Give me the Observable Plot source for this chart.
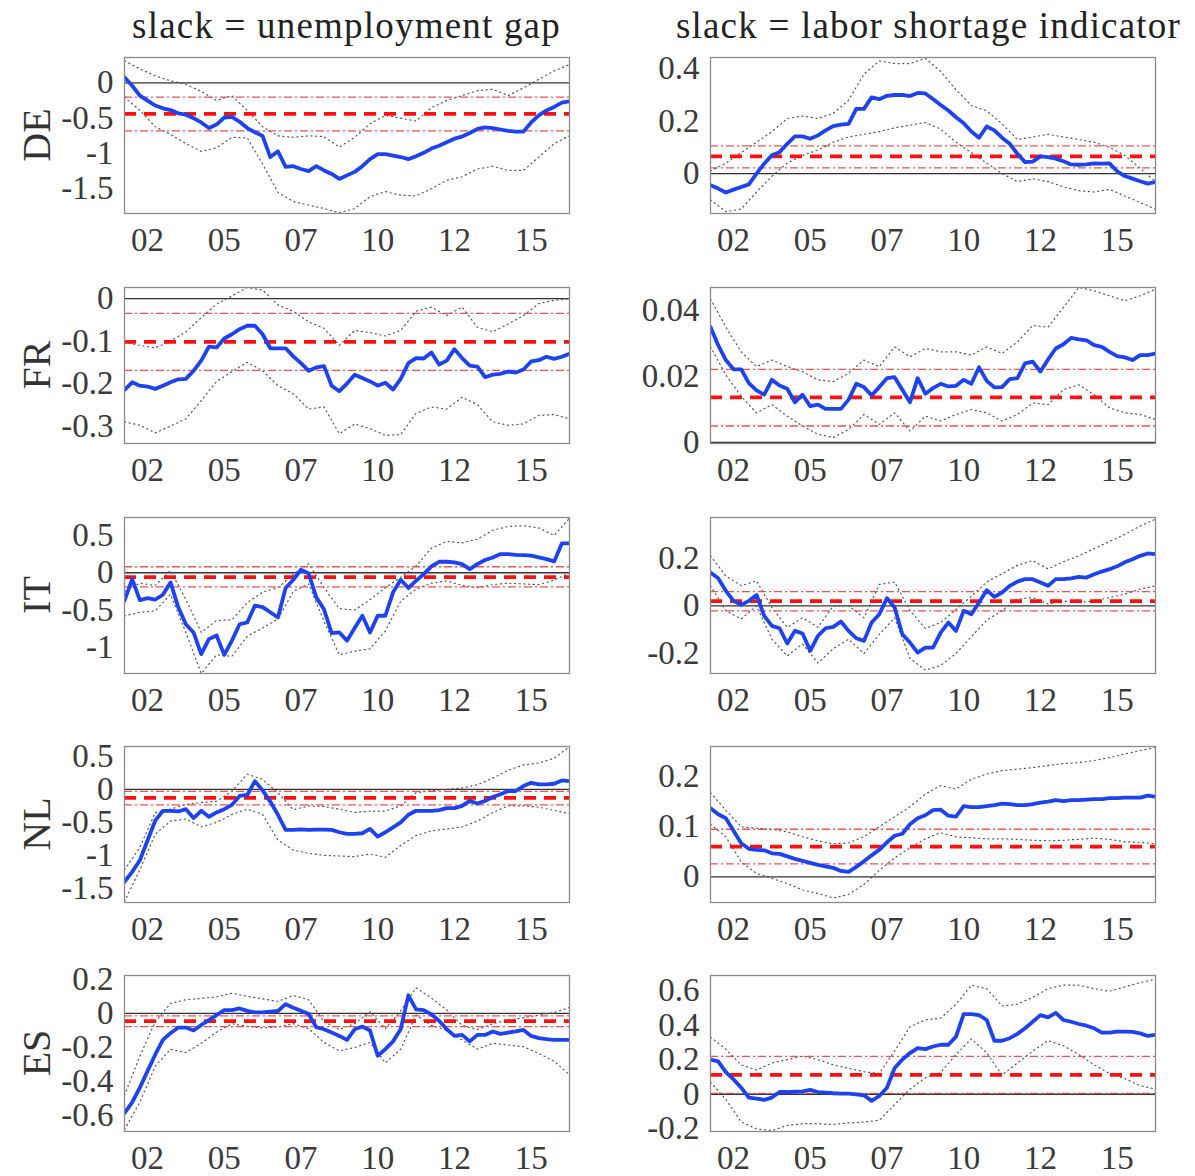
<!DOCTYPE html>
<html><head><meta charset="utf-8">
<script src="https://cdn.jsdelivr.net/npm/d3@7"></script>
<script src="https://cdn.jsdelivr.net/npm/@observablehq/plot@0.6"></script>
<style>
body{margin:0;background:#fff;}
#chart{position:relative;width:1195px;height:1176px;font-family:"Liberation Serif",serif;overflow:hidden;}
#chart svg{position:absolute;}
</style></head><body><div id="chart"></div>
<script>
// ---------- shared axis data ----------
const xStart = 2001.5, xEnd = 2016.0;              // 2001Q3 .. 2016Q1, quarterly
const xTickValues = [2002.25, 2004.75, 2007.25, 2009.75, 2012.25, 2014.75];
const xTickLabels = ["02", "05", "07", "10", "12", "15"];
const countries = ["DE", "FR", "IT", "NL", "ES"];
const columnTitles = ["slack = unemployment gap", "slack = labor shortage indicator"];

// ---------- DE ----------
const deGapEst = [0.08,-0.04,-0.18,-0.25,-0.32,-0.36,-0.385,-0.43,-0.45,-0.50,-0.56,-0.64,-0.59,-0.49,-0.48,-0.55,-0.64,-0.70,-0.75,-1.05,-0.97,-1.19,-1.18,-1.22,-1.25,-1.18,-1.24,-1.29,-1.36,-1.31,-1.26,-1.18,-1.08,-1.01,-1.01,-1.03,-1.05,-1.08,-1.04,-0.99,-0.93,-0.89,-0.84,-0.79,-0.76,-0.71,-0.65,-0.63,-0.64,-0.66,-0.68,-0.69,-0.69,-0.56,-0.46,-0.39,-0.34,-0.28,-0.26];
const deGapUp = [0.31,0.20,0.10,0.03,-0.02,-0.12,-0.25,-0.18,-0.39,-0.62,-0.75,-0.77,-0.75,-0.76,-0.91,-0.77,-0.58,-0.46,-0.50,-0.54,-0.35,-0.25,-0.18,-0.11,-0.09,-0.18,-0.07,0.05,0.17,0.26];
const deGapLo = [-0.2,-0.39,-0.62,-0.73,-0.86,-0.97,-0.92,-0.77,-0.78,-1.15,-1.55,-1.68,-1.73,-1.78,-1.84,-1.78,-1.61,-1.54,-1.59,-1.60,-1.50,-1.38,-1.33,-1.22,-1.18,-1.24,-1.24,-1.05,-0.86,-0.75];
const deGapMean = -0.44, deGapBand = [-0.20, -0.68];
const deGapTicks = [0, -0.5, -1, -1.5], deGapTickLabels = ["0", "-0.5", "-1", "-1.5"];

const deShortEst = [-0.044,-0.057,-0.072,-0.061,-0.051,-0.041,0.0,0.038,0.070,0.082,0.114,0.142,0.142,0.133,0.146,0.165,0.181,0.187,0.190,0.247,0.247,0.291,0.284,0.297,0.300,0.300,0.296,0.308,0.306,0.285,0.262,0.241,0.215,0.192,0.161,0.137,0.180,0.165,0.137,0.114,0.076,0.044,0.046,0.066,0.063,0.057,0.047,0.035,0.034,0.035,0.039,0.038,0.039,0.009,-0.009,-0.019,-0.029,-0.038,-0.032];
const deShortUp = [0.01,0.04,0.08,0.12,0.16,0.21,0.22,0.21,0.23,0.28,0.38,0.43,0.42,0.42,0.44,0.39,0.32,0.26,0.24,0.19,0.13,0.14,0.15,0.14,0.13,0.12,0.10,0.07,0.02,-0.03];
const deShortLo = [-0.10,-0.145,-0.135,-0.07,-0.01,0.04,0.07,0.09,0.12,0.14,0.15,0.16,0.175,0.185,0.195,0.17,0.12,0.08,0.04,0.0,-0.03,-0.02,-0.03,-0.05,-0.065,-0.07,-0.06,-0.085,-0.11,-0.135];
const deShortMean = 0.066, deShortBand = [0.106, 0.022];
const deShortTicks = [0, 0.2, 0.4], deShortTickLabels = ["0", "0.2", "0.4"];

// ---------- FR ----------
const frGapEst = [-0.215,-0.197,-0.205,-0.207,-0.2125,-0.205,-0.197,-0.19,-0.189,-0.17,-0.146,-0.113,-0.115,-0.094,-0.084,-0.072,-0.064,-0.064,-0.084,-0.117,-0.117,-0.117,-0.136,-0.152,-0.17,-0.162,-0.159,-0.205,-0.218,-0.20,-0.179,-0.187,-0.195,-0.205,-0.198,-0.214,-0.189,-0.152,-0.14,-0.141,-0.127,-0.155,-0.146,-0.119,-0.14,-0.158,-0.16,-0.185,-0.179,-0.177,-0.172,-0.174,-0.167,-0.148,-0.145,-0.137,-0.142,-0.137,-0.13];
const frGapUp = [-0.103,-0.11,-0.116,-0.10,-0.078,-0.045,-0.013,0.006,0.026,0.02,-0.015,-0.03,-0.055,-0.07,-0.11,-0.075,-0.08,-0.088,-0.075,-0.03,-0.02,-0.04,-0.02,-0.068,-0.078,-0.06,-0.04,-0.012,-0.004,0.0];
const frGapLo = [-0.29,-0.298,-0.316,-0.30,-0.283,-0.24,-0.195,-0.172,-0.15,-0.17,-0.205,-0.224,-0.26,-0.255,-0.318,-0.295,-0.306,-0.322,-0.32,-0.27,-0.255,-0.26,-0.232,-0.25,-0.29,-0.298,-0.295,-0.275,-0.273,-0.283];
const frGapMean = -0.102, frGapBand = [-0.035, -0.169];
const frGapTicks = [0, -0.1, -0.2, -0.3], frGapTickLabels = ["0", "-0.1", "-0.2", "-0.3"];

const frShortEst = [0.035,0.0295,0.025,0.0222,0.0222,0.018,0.0158,0.0145,0.019,0.0173,0.0163,0.0122,0.0145,0.011,0.0115,0.0102,0.0102,0.0102,0.013,0.0178,0.0168,0.0143,0.0168,0.0195,0.0198,0.016,0.0122,0.0195,0.0148,0.0165,0.0178,0.017,0.0172,0.019,0.0178,0.0228,0.0187,0.0167,0.0168,0.0192,0.0195,0.024,0.0245,0.0215,0.0252,0.0285,0.0298,0.0317,0.0313,0.031,0.0295,0.029,0.0275,0.0262,0.0258,0.025,0.0265,0.0265,0.027];
const frShortUp = [0.0435,0.035,0.0275,0.023,0.025,0.023,0.0215,0.019,0.0185,0.021,0.025,0.023,0.029,0.026,0.0285,0.0275,0.0275,0.0265,0.029,0.027,0.0305,0.0355,0.035,0.041,0.047,0.046,0.0445,0.043,0.0445,0.0465];
const frShortLo = [0.029,0.0205,0.014,0.009,0.0115,0.008,0.005,0.0025,0.0015,0.004,0.0085,0.0055,0.009,0.0035,0.008,0.0065,0.0085,0.010,0.009,0.0065,0.0085,0.012,0.0115,0.016,0.0175,0.0145,0.0105,0.009,0.0085,0.007];
const frShortMean = 0.0137, frShortBand = [0.0222, 0.005];
const frShortTicks = [0, 0.02, 0.04], frShortTickLabels = ["0", "0.02", "0.04"];

// ---------- IT ----------
const itGapEst = [-0.375,-0.085,-0.366,-0.34,-0.36,-0.295,-0.13,-0.46,-0.69,-0.80,-1.09,-0.89,-0.84,-1.10,-0.91,-0.69,-0.665,-0.44,-0.46,-0.53,-0.60,-0.205,-0.094,0.04,-0.01,-0.33,-0.49,-0.81,-0.80,-0.91,-0.74,-0.576,-0.80,-0.576,-0.576,-0.263,-0.094,-0.205,-0.107,-0.018,0.085,0.147,0.147,0.138,0.116,0.049,0.116,0.17,0.205,0.25,0.25,0.24,0.237,0.228,0.205,0.183,0.152,0.393,0.393];
const itGapUp = [-0.25,-0.14,-0.17,0.03,-0.36,-0.80,-0.64,-0.63,-0.40,-0.26,-0.20,-0.02,0.12,-0.20,-0.48,-0.50,-0.36,-0.20,-0.06,0.09,0.33,0.42,0.40,0.45,0.57,0.62,0.63,0.60,0.50,0.73];
const itGapLo = [-0.58,-0.53,-0.51,-0.29,-0.80,-1.35,-1.10,-1.12,-0.85,-0.74,-0.62,-0.25,-0.15,-0.65,-1.10,-1.05,-1.02,-0.78,-0.38,-0.22,-0.14,-0.11,-0.17,-0.20,-0.16,-0.14,-0.15,-0.16,-0.10,0.0];
const itGapMean = -0.06, itGapBand = [0.08, -0.19];
const itGapTicks = [0.5, 0, -0.5, -1], itGapTickLabels = ["0.5", "0", "-0.5", "-1"];

const itShortEst = [0.14,0.116,0.063,0.021,0.004,0.021,0.046,-0.042,-0.084,-0.094,-0.158,-0.105,-0.116,-0.189,-0.126,-0.094,-0.088,-0.066,-0.105,-0.136,-0.147,-0.07,-0.035,0.032,-0.007,-0.119,-0.154,-0.196,-0.175,-0.175,-0.112,-0.07,-0.105,-0.021,-0.035,0.014,0.066,0.038,0.056,0.084,0.102,0.112,0.112,0.098,0.084,0.112,0.112,0.115,0.122,0.119,0.133,0.144,0.154,0.166,0.183,0.196,0.21,0.22,0.217];
const itShortUp = [0.21,0.125,0.085,0.105,-0.007,-0.09,-0.05,-0.09,0.0,0.0,-0.05,0.09,0.10,-0.02,-0.095,-0.07,-0.015,0.04,0.10,0.135,0.17,0.19,0.155,0.185,0.21,0.24,0.27,0.30,0.335,0.364];
const itShortLo = [0.084,-0.02,-0.055,0.0,-0.14,-0.21,-0.16,-0.24,-0.18,-0.14,-0.20,-0.12,-0.05,-0.22,-0.27,-0.25,-0.20,-0.13,-0.06,-0.02,0.028,0.035,0.008,0.02,0.014,0.021,0.035,0.049,0.07,0.084];
const itShortMean = 0.02, itShortBand = [0.06, -0.021];
const itShortTicks = [0.2, 0, -0.2], itShortTickLabels = ["0.2", "0", "-0.2"];

// ---------- NL ----------
const nlGapEst = [-1.40,-1.25,-1.075,-0.775,-0.475,-0.325,-0.325,-0.335,-0.30,-0.435,-0.325,-0.415,-0.35,-0.30,-0.235,-0.10,-0.085,0.125,-0.015,-0.185,-0.385,-0.615,-0.615,-0.605,-0.615,-0.61,-0.61,-0.615,-0.65,-0.675,-0.675,-0.665,-0.60,-0.715,-0.65,-0.575,-0.50,-0.385,-0.325,-0.325,-0.325,-0.315,-0.285,-0.285,-0.25,-0.175,-0.215,-0.175,-0.115,-0.075,-0.025,-0.025,0.05,0.10,0.075,0.075,0.085,0.135,0.125];
const nlGapUp = [-1.22,-0.88,-0.35,-0.30,-0.23,-0.20,-0.18,-0.03,0.23,0.15,-0.05,-0.31,-0.25,-0.26,-0.30,-0.35,-0.33,-0.33,-0.25,-0.05,-0.02,0.0,0.02,0.07,0.17,0.29,0.37,0.40,0.47,0.65];
const nlGapLo = [-1.70,-1.22,-0.68,-0.48,-0.45,-0.57,-0.50,-0.38,-0.30,-0.38,-0.77,-0.92,-0.97,-1.0,-1.01,-1.02,-0.98,-1.03,-0.85,-0.70,-0.63,-0.60,-0.57,-0.48,-0.35,-0.25,-0.25,-0.27,-0.32,-0.37];
const nlGapMean = -0.13, nlGapBand = [-0.03, -0.235];
const nlGapTicks = [0.5, 0, -0.5, -1, -1.5], nlGapTickLabels = ["0.5", "0", "-0.5", "-1", "-1.5"];

const nlShortEst = [0.137,0.125,0.117,0.092,0.067,0.056,0.054,0.053,0.047,0.046,0.041,0.036,0.032,0.028,0.024,0.021,0.018,0.012,0.010,0.020,0.031,0.043,0.054,0.069,0.082,0.086,0.105,0.117,0.123,0.133,0.134,0.122,0.12,0.141,0.139,0.139,0.141,0.143,0.146,0.145,0.143,0.143,0.145,0.148,0.15,0.153,0.151,0.153,0.153,0.154,0.155,0.155,0.157,0.157,0.158,0.158,0.158,0.162,0.16];
const nlShortUp = [0.168,0.133,0.10,0.097,0.095,0.09,0.08,0.072,0.066,0.068,0.08,0.10,0.12,0.14,0.165,0.182,0.175,0.195,0.205,0.212,0.215,0.218,0.222,0.226,0.228,0.232,0.238,0.245,0.252,0.258];
const nlShortLo = [0.105,0.08,0.03,0.007,-0.003,-0.013,-0.026,-0.033,-0.042,-0.035,-0.015,0.013,0.038,0.058,0.076,0.088,0.08,0.078,0.076,0.076,0.075,0.073,0.072,0.073,0.075,0.077,0.075,0.07,0.069,0.066];
const nlShortMean = 0.0605, nlShortBand = [0.095, 0.026];
const nlShortTicks = [0.2, 0.1, 0], nlShortTickLabels = ["0.2", "0.1", "0"];

// ---------- ES ----------
const esGapEst = [-0.584,-0.522,-0.435,-0.338,-0.242,-0.155,-0.116,-0.083,-0.083,-0.10,-0.068,-0.039,-0.01,0.019,0.019,0.029,0.015,0.006,0.006,0.01,0.014,0.054,0.033,0.015,-0.004,-0.081,-0.093,-0.112,-0.132,-0.155,-0.093,-0.077,-0.10,-0.248,-0.209,-0.164,-0.093,0.106,0.023,0.019,-0.006,-0.043,-0.093,-0.132,-0.126,-0.164,-0.126,-0.126,-0.106,-0.12,-0.112,-0.106,-0.097,-0.132,-0.145,-0.151,-0.155,-0.155,-0.155];
const esGapUp = [-0.48,-0.25,-0.05,0.058,0.08,0.088,0.097,0.118,0.10,0.085,0.07,0.105,0.08,-0.048,-0.095,-0.06,0.01,-0.09,0.015,0.15,0.09,0.02,-0.07,-0.095,-0.06,-0.04,-0.025,-0.01,0.005,0.035];
const esGapLo = [-0.68,-0.52,-0.31,-0.21,-0.23,-0.175,-0.11,-0.06,-0.075,-0.085,-0.08,-0.06,-0.09,-0.17,-0.22,-0.20,-0.17,-0.29,-0.21,-0.01,-0.07,-0.10,-0.155,-0.21,-0.175,-0.185,-0.195,-0.235,-0.28,-0.36];
const esGapMean = -0.045, esGapBand = [-0.015, -0.078];
const esGapTicks = [0.2, 0, -0.2, -0.4, -0.6], esGapTickLabels = ["0.2", "0", "-0.2", "-0.4", "-0.6"];

const esShortEst = [0.20,0.19,0.128,0.086,0.038,-0.019,-0.025,-0.032,-0.019,0.013,0.013,0.015,0.017,0.025,0.013,0.01,0.006,0.004,0.004,0.0,-0.006,-0.038,-0.01,0.038,0.152,0.20,0.238,0.267,0.261,0.276,0.286,0.286,0.333,0.463,0.463,0.457,0.429,0.309,0.309,0.324,0.349,0.381,0.419,0.457,0.444,0.47,0.429,0.419,0.406,0.396,0.381,0.356,0.356,0.362,0.362,0.36,0.352,0.337,0.343];
const esShortUp = [0.33,0.26,0.17,0.14,0.18,0.20,0.22,0.20,0.17,0.15,0.13,0.12,0.25,0.39,0.43,0.44,0.52,0.63,0.61,0.51,0.52,0.56,0.61,0.63,0.63,0.61,0.595,0.62,0.645,0.665];
const esShortLo = [0.07,-0.03,-0.16,-0.20,-0.21,-0.18,-0.17,-0.17,-0.175,-0.165,-0.16,-0.15,-0.06,0.03,0.095,0.125,0.23,0.32,0.24,0.11,0.18,0.25,0.31,0.28,0.23,0.17,0.12,0.09,0.05,0.03];
const esShortMean = 0.112, esShortBand = [0.219, 0.005];
const esShortTicks = [0.6, 0.4, 0.2, 0, -0.2], esShortTickLabels = ["0.6", "0.4", "0.2", "0", "-0.2"];

// ---------- panel table built from the arrays ----------
const panels = [
  [{est: deGapEst, up: deGapUp, lo: deGapLo, mean: deGapMean, band: deGapBand, ticks: deGapTicks, labels: deGapTickLabels, domain: [-1.85, 0.36]},
   {est: deShortEst, up: deShortUp, lo: deShortLo, mean: deShortMean, band: deShortBand, ticks: deShortTicks, labels: deShortTickLabels, domain: [-0.152, 0.443]}],
  [{est: frGapEst, up: frGapUp, lo: frGapLo, mean: frGapMean, band: frGapBand, ticks: frGapTicks, labels: frGapTickLabels, domain: [-0.341, 0.026]},
   {est: frShortEst, up: frShortUp, lo: frShortLo, mean: frShortMean, band: frShortBand, ticks: frShortTicks, labels: frShortTickLabels, domain: [-0.0003, 0.047]}],
  [{est: itGapEst, up: itGapUp, lo: itGapLo, mean: itGapMean, band: itGapBand, ticks: itGapTicks, labels: itGapTickLabels, domain: [-1.35, 0.74]},
   {est: itShortEst, up: itShortUp, lo: itShortLo, mean: itShortMean, band: itShortBand, ticks: itShortTicks, labels: itShortTickLabels, domain: [-0.284, 0.371]}],
  [{est: nlGapEst, up: nlGapUp, lo: nlGapLo, mean: nlGapMean, band: nlGapBand, ticks: nlGapTicks, labels: nlGapTickLabels, domain: [-1.715, 0.65]},
   {est: nlShortEst, up: nlShortUp, lo: nlShortLo, mean: nlShortMean, band: nlShortBand, ticks: nlShortTicks, labels: nlShortTickLabels, domain: [-0.051, 0.26]}],
  [{est: esGapEst, up: esGapUp, lo: esGapLo, mean: esGapMean, band: esGapBand, ticks: esGapTicks, labels: esGapTickLabels, domain: [-0.692, 0.222]},
   {est: esShortEst, up: esShortUp, lo: esShortLo, mean: esShortMean, band: esShortBand, ticks: esShortTicks, labels: esShortTickLabels, domain: [-0.215, 0.686]}]
];

// ---------- layout ----------
const colLeft = [124, 710], frameW = 445;
const rowTop = [57, 287, 517, 746, 975], frameH = 156;
const ML = 112, MR = 10, MT = 10, MB = 44;
const chart = document.getElementById("chart");

function toSeries(arr) {
  const n = arr.length;
  return arr.map((v, i) => ({x: xStart + i * (xEnd - xStart) / (n - 1), y: v}));
}

panels.forEach((row, r) => row.forEach((p, c) => {
  const svg = Plot.plot({
    width: frameW + ML + MR, height: frameH + MT + MB,
    marginLeft: ML, marginRight: MR, marginTop: MT, marginBottom: MB,
    style: {fontFamily: "'Liberation Serif', serif", fontSize: "33px", color: "#3a3a3a", background: "transparent", overflow: "visible"},
    x: {domain: [xStart, xEnd], ticks: xTickValues, tickFormat: d => xTickLabels[xTickValues.indexOf(d)], tickSize: 0, tickPadding: 14, label: null},
    y: {domain: p.domain, ticks: p.ticks, tickFormat: d => p.labels[p.ticks.indexOf(d)], tickSize: 0, tickPadding: 11, label: null},
    marks: [
      Plot.ruleY([0], {stroke: "#333", strokeWidth: 1.3}),
      Plot.line(toSeries(p.up), {x: "x", y: "y", stroke: "#555", strokeWidth: 1.2, strokeDasharray: "1.1,3.6", clip: true}),
      Plot.line(toSeries(p.lo), {x: "x", y: "y", stroke: "#555", strokeWidth: 1.2, strokeDasharray: "1.1,3.6", clip: true}),
      Plot.ruleY(p.band, {stroke: "#ec4040", strokeWidth: 1.3, strokeDasharray: "8,3,2,3", strokeOpacity: 0.9}),
      Plot.ruleY([p.mean], {stroke: "#ff1010", strokeWidth: 3.8, strokeDasharray: "12,8"}),
      Plot.line(toSeries(p.est), {x: "x", y: "y", stroke: "#1d42f2", strokeWidth: 3.8, strokeLinejoin: "round", clip: true}),
      Plot.frame({stroke: "#8a8a8a", strokeWidth: 1.3})
    ]
  });
  svg.style.left = (colLeft[c] - ML) + "px";
  svg.style.top = (rowTop[r] - MT) + "px";
  chart.appendChild(svg);
}));

// ---------- titles and row labels ----------
const overlay = d3.select(chart).append("svg")
  .attr("width", 1195).attr("height", 1176)
  .style("left", "0px").style("top", "0px")
  .style("font-family", "'Liberation Serif', serif").style("pointer-events", "none");
columnTitles.forEach((t, c) => {
  overlay.append("text").attr("x", colLeft[c] + frameW / 2 + (c ? -4 : 0)).attr("y", 38)
    .attr("text-anchor", "middle").attr("font-size", 37).attr("letter-spacing", 1.2)
    .attr("fill", "#222").text(t);
});
countries.forEach((name, r) => {
  const cy = rowTop[r] + frameH / 2;
  overlay.append("text").attr("transform", `translate(50,${cy}) rotate(-90)`)
    .attr("text-anchor", "middle").attr("font-size", 40).attr("fill", "#333").text(name);
});
</script></body></html>
